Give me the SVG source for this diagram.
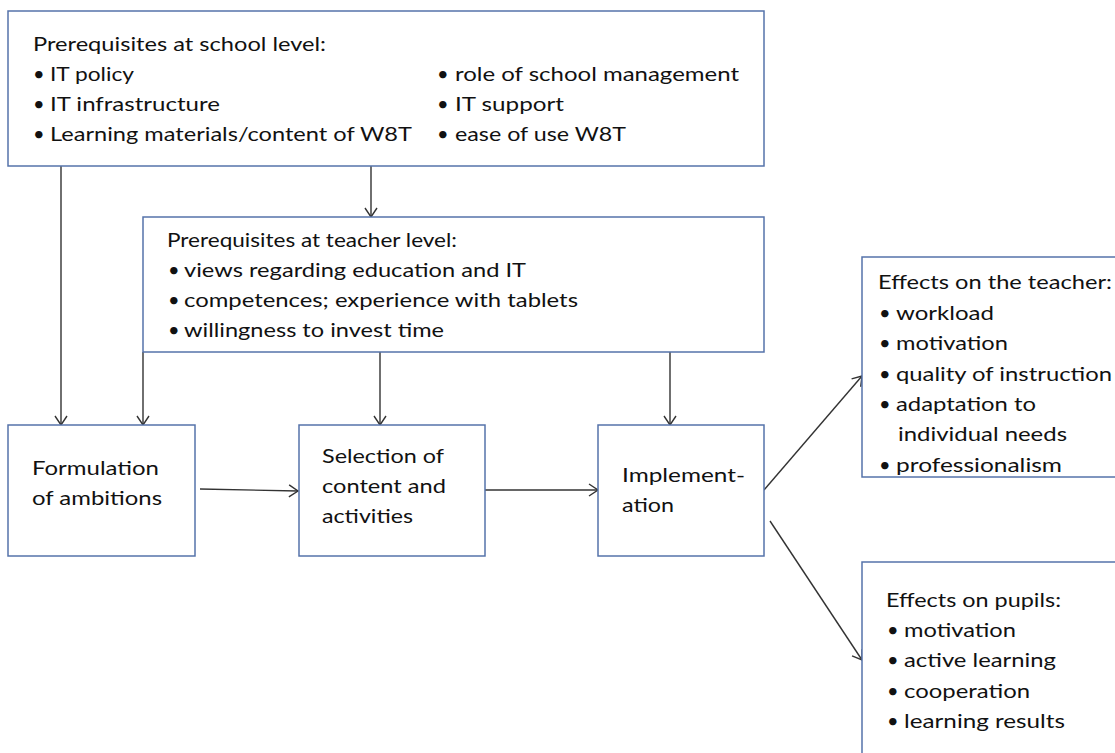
<svg xmlns="http://www.w3.org/2000/svg" width="1115" height="753" viewBox="0 0 1115 753">
<style>
.box{fill:#fff;stroke:#5573aa;stroke-width:1.5}
.t{font-family:Lato,"Open Sans","Liberation Sans",sans-serif;font-size:20px;fill:#111}
.c{stroke:#333;stroke-width:1.4;fill:none;marker-end:url(#ah)}
</style>
<defs>
<marker id="ah" markerUnits="userSpaceOnUse" markerWidth="12" markerHeight="14" refX="10" refY="7" orient="auto">
<path d="M1,1 L10,7 L1,13" fill="none" stroke="#333" stroke-width="1.4"/>
</marker>
</defs>
<rect width="1115" height="753" fill="#fff"/>
<g id="connectors">
<line class="c" x1="61" y1="166" x2="61" y2="425"/>
<line class="c" x1="371" y1="166" x2="371" y2="217"/>
<line class="c" x1="143" y1="352" x2="143" y2="425"/>
<line class="c" x1="380" y1="352" x2="380" y2="425"/>
<line class="c" x1="670" y1="352" x2="670" y2="425"/>
<line class="c" x1="200" y1="489" x2="298" y2="491"/>
<line class="c" x1="485" y1="490" x2="598" y2="490"/>
<line class="c" x1="764" y1="490" x2="862" y2="376"/>
<line class="c" x1="770" y1="521" x2="862" y2="660"/>
</g>
<g id="school">
<rect class="box" x="8" y="11" width="756" height="155"/>
<text class="t" x="33" y="51" textLength="293" lengthAdjust="spacingAndGlyphs">Prerequisites at school level:</text>
<text class="t" y="81"><tspan x="33">•</tspan><tspan x="50" textLength="84" lengthAdjust="spacingAndGlyphs">IT policy</tspan></text>
<text class="t" y="111"><tspan x="33">•</tspan><tspan x="50" textLength="170" lengthAdjust="spacingAndGlyphs">IT infrastructure</tspan></text>
<text class="t" y="141"><tspan x="33">•</tspan><tspan x="50" textLength="362" lengthAdjust="spacingAndGlyphs">Learning materials/content of W8T</tspan></text>
<text class="t" y="81"><tspan x="437">•</tspan><tspan x="455" textLength="284" lengthAdjust="spacingAndGlyphs">role of school management</tspan></text>
<text class="t" y="111"><tspan x="437">•</tspan><tspan x="455" textLength="109" lengthAdjust="spacingAndGlyphs">IT support</tspan></text>
<text class="t" y="141"><tspan x="437">•</tspan><tspan x="455" textLength="171" lengthAdjust="spacingAndGlyphs">ease of use W8T</tspan></text>
</g>
<g id="teacher">
<rect class="box" x="143" y="217" width="621" height="135"/>
<text class="t" x="167" y="247" textLength="290" lengthAdjust="spacingAndGlyphs">Prerequisites at teacher level:</text>
<text class="t" y="277"><tspan x="168">•</tspan><tspan x="184" textLength="342" lengthAdjust="spacingAndGlyphs">views regarding education and IT</tspan></text>
<text class="t" y="307"><tspan x="168">•</tspan><tspan x="184" textLength="394" lengthAdjust="spacingAndGlyphs">competences; experience with tablets</tspan></text>
<text class="t" y="337"><tspan x="168">•</tspan><tspan x="184" textLength="260" lengthAdjust="spacingAndGlyphs">willingness to invest time</tspan></text>
</g>
<g id="formulation">
<rect class="box" x="8" y="425" width="187" height="131"/>
<text class="t" x="32" y="475" textLength="127" lengthAdjust="spacingAndGlyphs">Formulation</text>
<text class="t" x="32" y="505" textLength="130" lengthAdjust="spacingAndGlyphs">of ambitions</text>
</g>
<g id="selection">
<rect class="box" x="299" y="425" width="186" height="131"/>
<text class="t" x="322" y="463" textLength="122" lengthAdjust="spacingAndGlyphs">Selection of</text>
<text class="t" x="322" y="493" textLength="124" lengthAdjust="spacingAndGlyphs">content and</text>
<text class="t" x="322" y="523" textLength="91" lengthAdjust="spacingAndGlyphs">activities</text>
</g>
<g id="implementation">
<rect class="box" x="598" y="425" width="166" height="131"/>
<text class="t" x="622" y="482" textLength="123" lengthAdjust="spacingAndGlyphs">Implement-</text>
<text class="t" x="622" y="512" textLength="52" lengthAdjust="spacingAndGlyphs">ation</text>
</g>
<g id="effects-teacher">
<rect class="box" x="862" y="257" width="270" height="220"/>
<text class="t" x="878" y="289" textLength="234" lengthAdjust="spacingAndGlyphs">Effects on the teacher:</text>
<text class="t" y="320"><tspan x="879">•</tspan><tspan x="896" textLength="98" lengthAdjust="spacingAndGlyphs">workload</tspan></text>
<text class="t" y="350"><tspan x="879">•</tspan><tspan x="896" textLength="112" lengthAdjust="spacingAndGlyphs">motivation</tspan></text>
<text class="t" y="381"><tspan x="879">•</tspan><tspan x="896" textLength="216" lengthAdjust="spacingAndGlyphs">quality of instruction</tspan></text>
<text class="t" y="411"><tspan x="879">•</tspan><tspan x="896" textLength="140" lengthAdjust="spacingAndGlyphs">adaptation to</tspan></text>
<text class="t" x="898" y="441" textLength="169" lengthAdjust="spacingAndGlyphs">individual needs</text>
<text class="t" y="472"><tspan x="879">•</tspan><tspan x="896" textLength="166" lengthAdjust="spacingAndGlyphs">professionalism</tspan></text>
</g>
<g id="effects-pupils">
<rect class="box" x="862" y="562" width="270" height="210"/>
<text class="t" x="886" y="607" textLength="175" lengthAdjust="spacingAndGlyphs">Effects on pupils:</text>
<text class="t" y="637"><tspan x="887">•</tspan><tspan x="904" textLength="112" lengthAdjust="spacingAndGlyphs">motivation</tspan></text>
<text class="t" y="667"><tspan x="887">•</tspan><tspan x="904" textLength="152" lengthAdjust="spacingAndGlyphs">active learning</tspan></text>
<text class="t" y="698"><tspan x="887">•</tspan><tspan x="904" textLength="126" lengthAdjust="spacingAndGlyphs">cooperation</tspan></text>
<text class="t" y="728"><tspan x="887">•</tspan><tspan x="904" textLength="161" lengthAdjust="spacingAndGlyphs">learning results</tspan></text>
</g>
</svg>
